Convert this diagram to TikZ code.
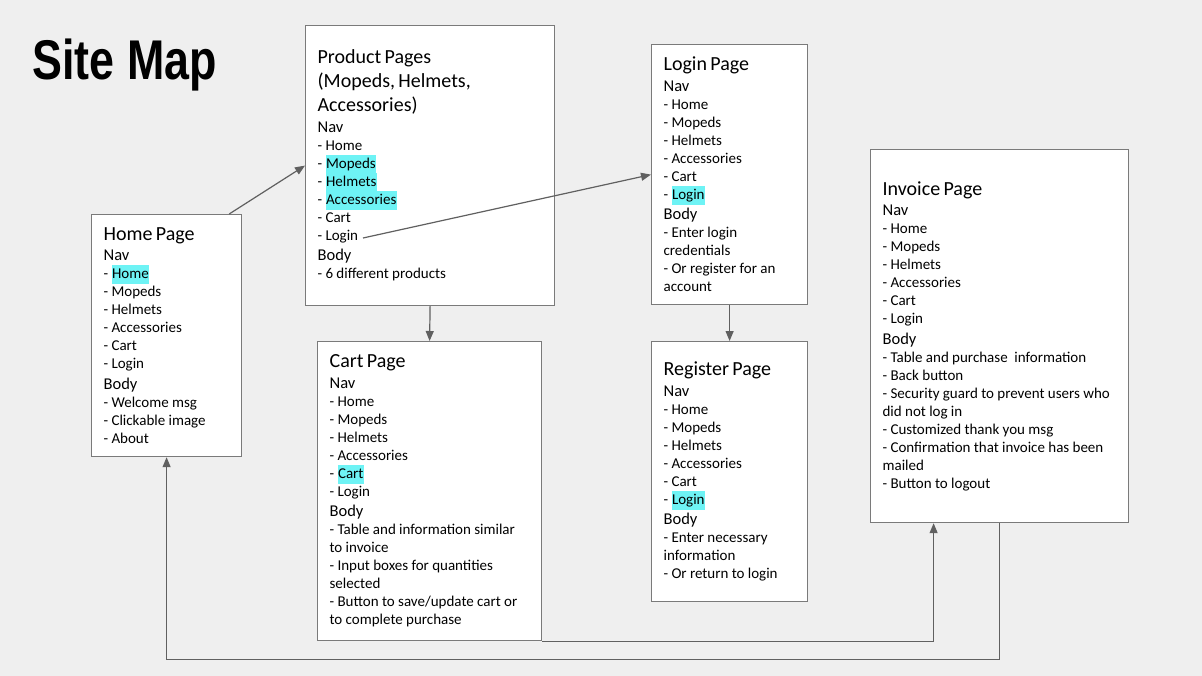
\documentclass[tikz,border=0pt]{standalone}
\usepackage{fontspec}
\setmainfont{Carlito}
\newfontfamily\titlefont{Liberation Sans}
\usetikzlibrary{arrows.meta}

\definecolor{bggray}{HTML}{EFEFEF}
\definecolor{boxgray}{HTML}{7A7A7A}
\definecolor{linegray}{HTML}{606060}
\definecolor{hlcyan}{RGB}{110,243,245}

\newcommand\pgtitle[1]{{\fontsize{20}{24}\selectfont #1\par}}
\newcommand\pgsect[1]{{\fontsize{16.5}{20.5}\selectfont #1\par}}
\newcommand\pgitem[1]{{\fontsize{15}{18}\selectfont - #1\par}}
\newcommand\hlt[1]{{\setlength\fboxsep{0.5pt}\smash{\colorbox{hlcyan}{\rule[-5pt]{0pt}{18pt}#1}}}}

\begin{document}
\begin{tikzpicture}[x=1pt, y=-1pt, line width=1.2pt,
    pagebox/.style = {draw=boxgray, fill=white, anchor=north west, align=left,
                      inner xsep=12pt, inner ysep=0pt},
    link/.style    = {draw=linegray, -{Triangle[length=10pt, width=8pt]}}]
    \fill[bggray] (0,0) rectangle (1202,676);
    \useasboundingbox (0,0) rectangle (1202,676);
    \node[anchor=base west, inner sep=0] (sitemap) at (32,80)
      {\scalebox{0.8}[1]{\fontsize{56}{60}\titlefont\bfseries Site Map}};

    \node[pagebox, text width=126pt, minimum height=242pt] (home) at (91,214) {
      \pgtitle{Home Page}
      \pgsect{Nav}
      \pgitem{\hlt{Home}} \pgitem{Mopeds} \pgitem{Helmets}
      \pgitem{Accessories} \pgitem{Cart} \pgitem{Login}
      \pgsect{Body}
      \pgitem{Welcome msg} \pgitem{Clickable image} \pgitem{About}};
    \node[pagebox, text width=225pt, minimum height=280pt] (product) at (305,25) {
      \pgtitle{Product Pages\newline(Mopeds, Helmets,\newline Accessories)}
      \pgsect{Nav}
      \pgitem{Home} \pgitem{\hlt{Mopeds}} \pgitem{\hlt{Helmets}}
      \pgitem{\hlt{Accessories}} \pgitem{Cart} \pgitem{Login}
      \pgsect{Body}
      \pgitem{6 different products}};
    \node[pagebox, text width=132pt, minimum height=260pt] (login) at (651,44) {
      \pgtitle{Login Page}
      \pgsect{Nav}
      \pgitem{Home} \pgitem{Mopeds} \pgitem{Helmets}
      \pgitem{Accessories} \pgitem{Cart} \pgitem{\hlt{Login}}
      \pgsect{Body}
      \pgitem{\mbox{Enter login}\newline credentials}
      \pgitem{\mbox{Or register for an}\newline account}};
    \node[pagebox, text width=200pt, minimum height=299pt] (cart) at (317,341) {
      \pgtitle{Cart Page}
      \pgsect{Nav}
      \pgitem{Home} \pgitem{Mopeds} \pgitem{Helmets}
      \pgitem{Accessories} \pgitem{\hlt{Cart}} \pgitem{Login}
      \pgsect{Body}
      \pgitem{\mbox{Table and information similar}\newline to invoice}
      \pgitem{\mbox{Input boxes for quantities}\newline selected}
      \pgitem{\mbox{Button to save/update cart or}\newline to complete purchase}};
    \node[pagebox, text width=132pt, minimum height=260pt] (register) at (651,341) {
      \pgtitle{Register Page}
      \pgsect{Nav}
      \pgitem{Home} \pgitem{Mopeds} \pgitem{Helmets}
      \pgitem{Accessories} \pgitem{Cart} \pgitem{\hlt{Login}}
      \pgsect{Body}
      \pgitem{\mbox{Enter necessary}\newline information}
      \pgitem{\mbox{Or return to login}}};
    \node[pagebox, text width=234pt, minimum height=373pt] (invoice) at (870,149) {
      \pgtitle{Invoice Page}
      \pgsect{Nav}
      \pgitem{Home} \pgitem{Mopeds} \pgitem{Helmets}
      \pgitem{Accessories} \pgitem{Cart} \pgitem{Login}
      \pgsect{Body}
      \pgitem{\mbox{Table and purchase~ information}}
      \pgitem{Back button}
      \pgitem{\mbox{Security guard to prevent users who}\newline did not log in}
      \pgitem{Customized thank you msg}
      \pgitem{\mbox{Confirmation that invoice has been}\newline mailed}
      \pgitem{Button to logout}};

    \coordinate (prodlogin) at (363,238);
    \draw[link] ([xshift=-13pt]home.north east) -- (product.west);
    \draw[link] (prodlogin) -- (login.west);
    \draw[link] (product.south) -- (cart.north);
    \draw[link] (login.south) -- (register.north);
    \draw[link] (cart.south east) -| ([xshift=-66pt]invoice.south);
    \draw[link] (invoice.south) -- ++(0,136) -| (home.south);
\end{tikzpicture}
\end{document}
